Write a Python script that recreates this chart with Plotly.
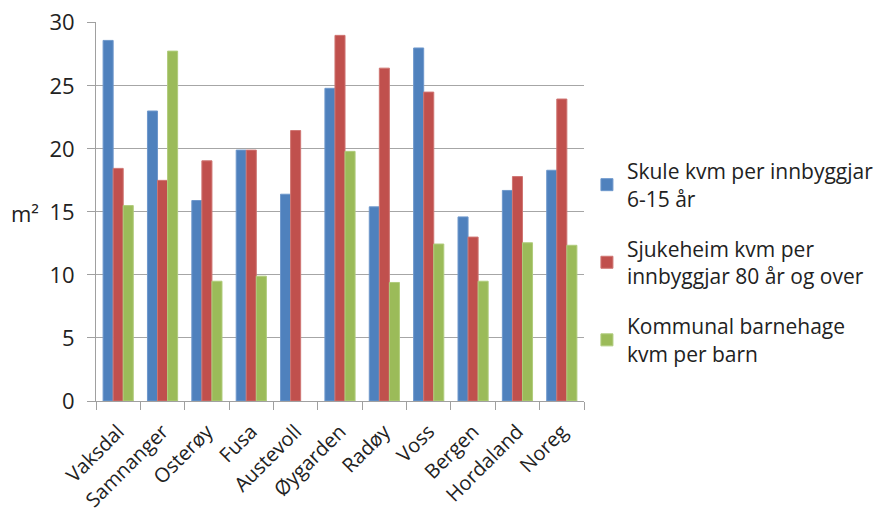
import plotly.graph_objects as go

categories = ["Vaksdal", "Samnanger", "Osterøy", "Fusa", "Austevoll", "Øygarden",
              "Radøy", "Voss", "Bergen", "Hordaland", "Noreg"]
skule = [28.6, 23.0, 15.9, 19.9, 16.4, 24.8, 15.4, 28.0, 14.6, 16.7, 18.3]
sjukeheim = [18.45, 17.5, 19.05, 19.9, 21.45, 29.0, 26.4, 24.5, 13.0, 17.8, 23.95]
barnehage = [15.5, 27.75, 9.5, 9.9, None, 19.8, 9.4, 12.45, 9.5, 12.55, 12.35]

names = ["Skule kvm per innbyggjar<br>6-15 år",
         "Sjukeheim kvm per<br>innbyggjar 80 år og over",
         "Kommunal barnehage<br>kvm per barn"]
colors = ["#4F81BD", "#C0504D", "#9BBB59"]
edges = ["#6E98CC", "#CF7572", "#B0CC7C"]

fig = go.Figure()
for i, (vals, nm) in enumerate(zip([skule, sjukeheim, barnehage], names)):
    fig.add_trace(go.Bar(x=categories, y=vals, name=nm, legendgroup=f"g{i}",
                         marker=dict(color=colors[i], line=dict(color=edges[i], width=1))))

font_family = "Open Sans, Noto Sans, sans-serif"
fig.update_layout(
    width=885, height=512,
    margin=dict(l=96, r=301, t=22, b=111, autoexpand=False),
    paper_bgcolor="white", plot_bgcolor="white",
    barmode="group", bargap=0.32, bargroupgap=0,
    font=dict(family=font_family, size=20, color="#222222"),
    showlegend=True,
    legend=dict(x=1.006, y=0.66, xanchor="left", yanchor="top",
                font=dict(size=21, color="#222222"), tracegroupgap=20,
                itemwidth=30, bgcolor="rgba(0,0,0,0)"),
    xaxis=dict(type="category", tickangle=-45, tickson="boundaries",
               ticks="outside", ticklen=8, tickcolor="#A0A0A0", automargin=False,
               showline=True, linecolor="#A0A0A0", linewidth=1, ticklabelstandoff=10,
               showgrid=False, tickfont=dict(size=20, color="#222222")),
    yaxis=dict(range=[0, 30.06], tickvals=[0, 5, 10, 15, 20, 25, 30], ticks="outside",
               ticklen=8, automargin=False,
               tickcolor="#A0A0A0", showline=True, linecolor="#A0A0A0",
               gridcolor="#A6A6A6", gridwidth=1, zeroline=False,
               tickfont=dict(size=22, color="#222222"), ticklabelstandoff=8),
    annotations=[dict(text="m²", xref="paper", yref="paper", x=-0.113, y=0.497,
                      xanchor="right", yanchor="middle", showarrow=False,
                      font=dict(size=22, color="#222222"))],
)
fig.write_html("out.html")
